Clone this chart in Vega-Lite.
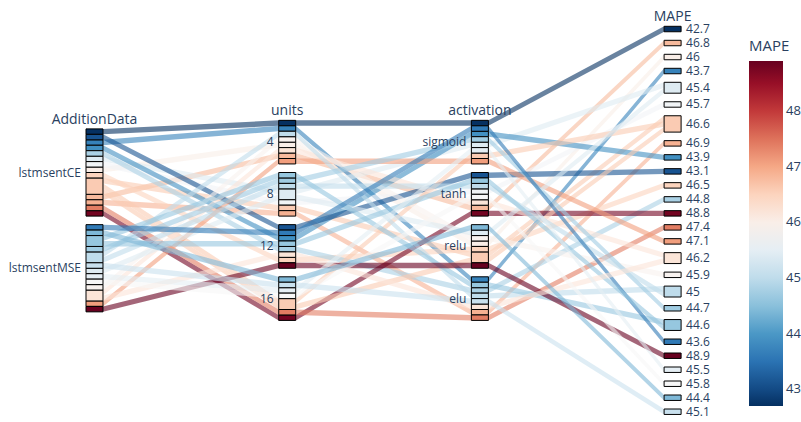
{
  "$schema": "https://vega.github.io/schema/vega-lite/v6.json",
  "width": 801,
  "height": 422,
  "autosize": {"type": "none"},
  "padding": 0,
  "background": "white",
  "config": {"view": {"stroke": null}, "font": "Open Sans"},
  "data": {
    "values": [
      {"AdditionData": "lstmsentCE", "units": 4, "activation": "sigmoid", "MAPE": 42.7},
      {"AdditionData": "lstmsentCE", "units": 4, "activation": "tanh", "MAPE": 46.8},
      {"AdditionData": "lstmsentCE", "units": 4, "activation": "relu", "MAPE": 46},
      {"AdditionData": "lstmsentCE", "units": 4, "activation": "elu", "MAPE": 43.7},
      {"AdditionData": "lstmsentCE", "units": 8, "activation": "sigmoid", "MAPE": 45.4},
      {"AdditionData": "lstmsentCE", "units": 8, "activation": "tanh", "MAPE": 45.7},
      {"AdditionData": "lstmsentCE", "units": 8, "activation": "relu", "MAPE": 46.6},
      {"AdditionData": "lstmsentCE", "units": 8, "activation": "elu", "MAPE": 46.9},
      {"AdditionData": "lstmsentCE", "units": 12, "activation": "sigmoid", "MAPE": 43.9},
      {"AdditionData": "lstmsentCE", "units": 12, "activation": "tanh", "MAPE": 43.1},
      {"AdditionData": "lstmsentCE", "units": 12, "activation": "relu", "MAPE": 46.5},
      {"AdditionData": "lstmsentCE", "units": 12, "activation": "elu", "MAPE": 44.8},
      {"AdditionData": "lstmsentCE", "units": 16, "activation": "sigmoid", "MAPE": 46.6},
      {"AdditionData": "lstmsentCE", "units": 16, "activation": "tanh", "MAPE": 48.8},
      {"AdditionData": "lstmsentCE", "units": 16, "activation": "relu", "MAPE": 46.6},
      {"AdditionData": "lstmsentCE", "units": 16, "activation": "elu", "MAPE": 47.4},
      {"AdditionData": "lstmsentMSE", "units": 4, "activation": "sigmoid", "MAPE": 47.1},
      {"AdditionData": "lstmsentMSE", "units": 4, "activation": "tanh", "MAPE": 46.2},
      {"AdditionData": "lstmsentMSE", "units": 4, "activation": "relu", "MAPE": 45.9},
      {"AdditionData": "lstmsentMSE", "units": 4, "activation": "elu", "MAPE": 45},
      {"AdditionData": "lstmsentMSE", "units": 8, "activation": "sigmoid", "MAPE": 44.7},
      {"AdditionData": "lstmsentMSE", "units": 8, "activation": "tanh", "MAPE": 45},
      {"AdditionData": "lstmsentMSE", "units": 8, "activation": "relu", "MAPE": 45.4},
      {"AdditionData": "lstmsentMSE", "units": 8, "activation": "elu", "MAPE": 44.6},
      {"AdditionData": "lstmsentMSE", "units": 12, "activation": "sigmoid", "MAPE": 43.6},
      {"AdditionData": "lstmsentMSE", "units": 12, "activation": "tanh", "MAPE": 44.6},
      {"AdditionData": "lstmsentMSE", "units": 12, "activation": "relu", "MAPE": 48.9},
      {"AdditionData": "lstmsentMSE", "units": 12, "activation": "elu", "MAPE": 46.2},
      {"AdditionData": "lstmsentMSE", "units": 16, "activation": "sigmoid", "MAPE": 45.5},
      {"AdditionData": "lstmsentMSE", "units": 16, "activation": "tanh", "MAPE": 45.8},
      {"AdditionData": "lstmsentMSE", "units": 16, "activation": "relu", "MAPE": 44.4},
      {"AdditionData": "lstmsentMSE", "units": 16, "activation": "elu", "MAPE": 45.1}
    ]
  },
  "transform": [
    {"window": [{"op": "row_number", "as": "idx"}]},
    {"fold": ["AdditionData", "units", "activation", "MAPE"], "as": ["dim", "cat"]},
    {"calculate": "indexof(['AdditionData','units','activation','MAPE'], datum.dim)", "as": "dimIdx"},
    {"joinaggregate": [{"op": "min", "field": "idx", "as": "firstIdx"}], "groupby": ["dim", "cat"]},
    {"window": [{"op": "dense_rank", "as": "catRank"}], "groupby": ["dim"], "sort": [{"field": "firstIdx", "order": "ascending"}]},
    {"window": [{"op": "row_number", "as": "pos"}], "groupby": ["dim"], "sort": [{"field": "firstIdx", "order": "ascending"}, {"field": "MAPE", "order": "ascending"}, {"field": "idx", "order": "ascending"}]},
    {"joinaggregate": [{"op": "max", "field": "catRank", "as": "numCats"}], "groupby": ["dim"]},
    {"joinaggregate": [{"op": "max", "field": "numCats", "as": "maxCats"}]},
    {"calculate": "(datum.maxCats - datum.numCats) * 8.55 / 2 + (datum.catRank - 1) * 8.55 + (datum.pos - 1) * 5.45", "as": "yTop"},
    {"calculate": "datum.yTop + 5.45", "as": "yBot"}
  ],
  "layer": [
    {
      "transform": [
        {"calculate": "[-1, 1]", "as": "side"},
        {"flatten": ["side"]},
        {"filter": "!(datum.dimIdx == 0 && datum.side == -1) && !(datum.dimIdx == 3 && datum.side == 1)"},
        {"calculate": "datum.dimIdx + datum.side * 0.0441", "as": "xp"}
      ],
      "mark": {"type": "area", "fillOpacity": 0.6, "interpolate": "linear"},
      "encoding": {
        "x": {"field": "xp", "type": "quantitative", "scale": {"domain": [-0.4904, 3.6663], "nice": false, "zero": false}, "axis": null},
        "y": {"field": "yTop", "type": "quantitative", "scale": {"domain": [-26.3, 395.7], "nice": false, "zero": false, "reverse": true}, "axis": null},
        "y2": {"field": "yBot"},
        "detail": {"field": "idx", "type": "nominal"},
        "color": {
          "field": "MAPE", "type": "quantitative",
          "scale": {
            "domain": [42.7, 43.32, 43.94, 44.56, 45.18, 45.8, 46.42, 47.04, 47.66, 48.28, 48.9],
            "range": ["#053061", "#2166ac", "#4393c3", "#92c5de", "#d1e5f0", "#f7f7f7", "#fddbc7", "#f4a582", "#d6604d", "#b2182b", "#67001f"],
            "interpolate": "rgb"
          },
          "legend": {
            "orient": "none", "legendX": 749, "legendY": 39, "direction": "vertical",
            "title": "MAPE", "titleFontSize": 15, "titleColor": "#2a3f5f", "titleFontWeight": "normal", "titlePadding": 7,
            "gradientLength": 345, "gradientThickness": 34, "gradientStrokeWidth": 0,
            "labelFontSize": 13, "labelColor": "#2a3f5f", "labelOffset": 3,
            "values": [43, 44, 45, 46, 47, 48], "padding": 0
          }
        }
      }
    },
    {
      "transform": [
        {"aggregate": [{"op": "min", "field": "yTop", "as": "y0"}, {"op": "max", "field": "yBot", "as": "y1"}], "groupby": ["dim", "dimIdx", "cat", "MAPE"]},
        {"calculate": "datum.dimIdx - 0.0441", "as": "x0"},
        {"calculate": "datum.dimIdx + 0.0441", "as": "x1"}
      ],
      "mark": {"type": "rect", "stroke": "black", "strokeWidth": 1, "opacity": 1},
      "encoding": {
        "x": {"field": "x0", "type": "quantitative"},
        "x2": {"field": "x1"},
        "y": {"field": "y0", "type": "quantitative"},
        "y2": {"field": "y1"},
        "color": {
          "field": "MAPE", "type": "quantitative",
          "legend": {
            "orient": "none", "legendX": 749, "legendY": 39, "direction": "vertical",
            "title": "MAPE", "titleFontSize": 15, "titleColor": "#2a3f5f", "titleFontWeight": "normal", "titlePadding": 7,
            "gradientLength": 345, "gradientThickness": 34, "gradientStrokeWidth": 0,
            "labelFontSize": 13, "labelColor": "#2a3f5f", "labelOffset": 3,
            "values": [43, 44, 45, 46, 47, 48], "padding": 0
          }
        }
      }
    },
    {
      "transform": [
        {"filter": "datum.dimIdx < 3"},
        {"aggregate": [{"op": "min", "field": "yTop", "as": "y0"}, {"op": "max", "field": "yBot", "as": "y1"}], "groupby": ["dim", "dimIdx", "cat"]},
        {"calculate": "(datum.y0 + datum.y1) / 2", "as": "ym"},
        {"calculate": "datum.dimIdx - 0.0441", "as": "xl"}
      ],
      "mark": {"type": "text", "align": "right", "baseline": "middle", "dx": -5, "fontSize": 12, "color": "#2a3f5f"},
      "encoding": {
        "x": {"field": "xl", "type": "quantitative"},
        "y": {"field": "ym", "type": "quantitative"},
        "text": {"field": "cat", "type": "nominal"}
      }
    },
    {
      "transform": [
        {"filter": "datum.dimIdx == 3"},
        {"aggregate": [{"op": "min", "field": "yTop", "as": "y0"}, {"op": "max", "field": "yBot", "as": "y1"}], "groupby": ["dim", "dimIdx", "cat"]},
        {"calculate": "(datum.y0 + datum.y1) / 2", "as": "ym"},
        {"calculate": "datum.dimIdx + 0.0441", "as": "xr"}
      ],
      "mark": {"type": "text", "align": "left", "baseline": "middle", "dx": 5, "fontSize": 12, "color": "#2a3f5f"},
      "encoding": {
        "x": {"field": "xr", "type": "quantitative"},
        "y": {"field": "ym", "type": "quantitative"},
        "text": {"field": "cat", "type": "nominal"}
      }
    },
    {
      "transform": [
        {"aggregate": [{"op": "min", "field": "yTop", "as": "y0"}], "groupby": ["dim", "dimIdx"]}
      ],
      "mark": {"type": "text", "align": "center", "baseline": "alphabetic", "dy": -5, "fontSize": 14, "color": "#2a3f5f"},
      "encoding": {
        "x": {"field": "dimIdx", "type": "quantitative"},
        "y": {"field": "y0", "type": "quantitative"},
        "text": {"field": "dim", "type": "nominal"}
      }
    }
  ]
}
